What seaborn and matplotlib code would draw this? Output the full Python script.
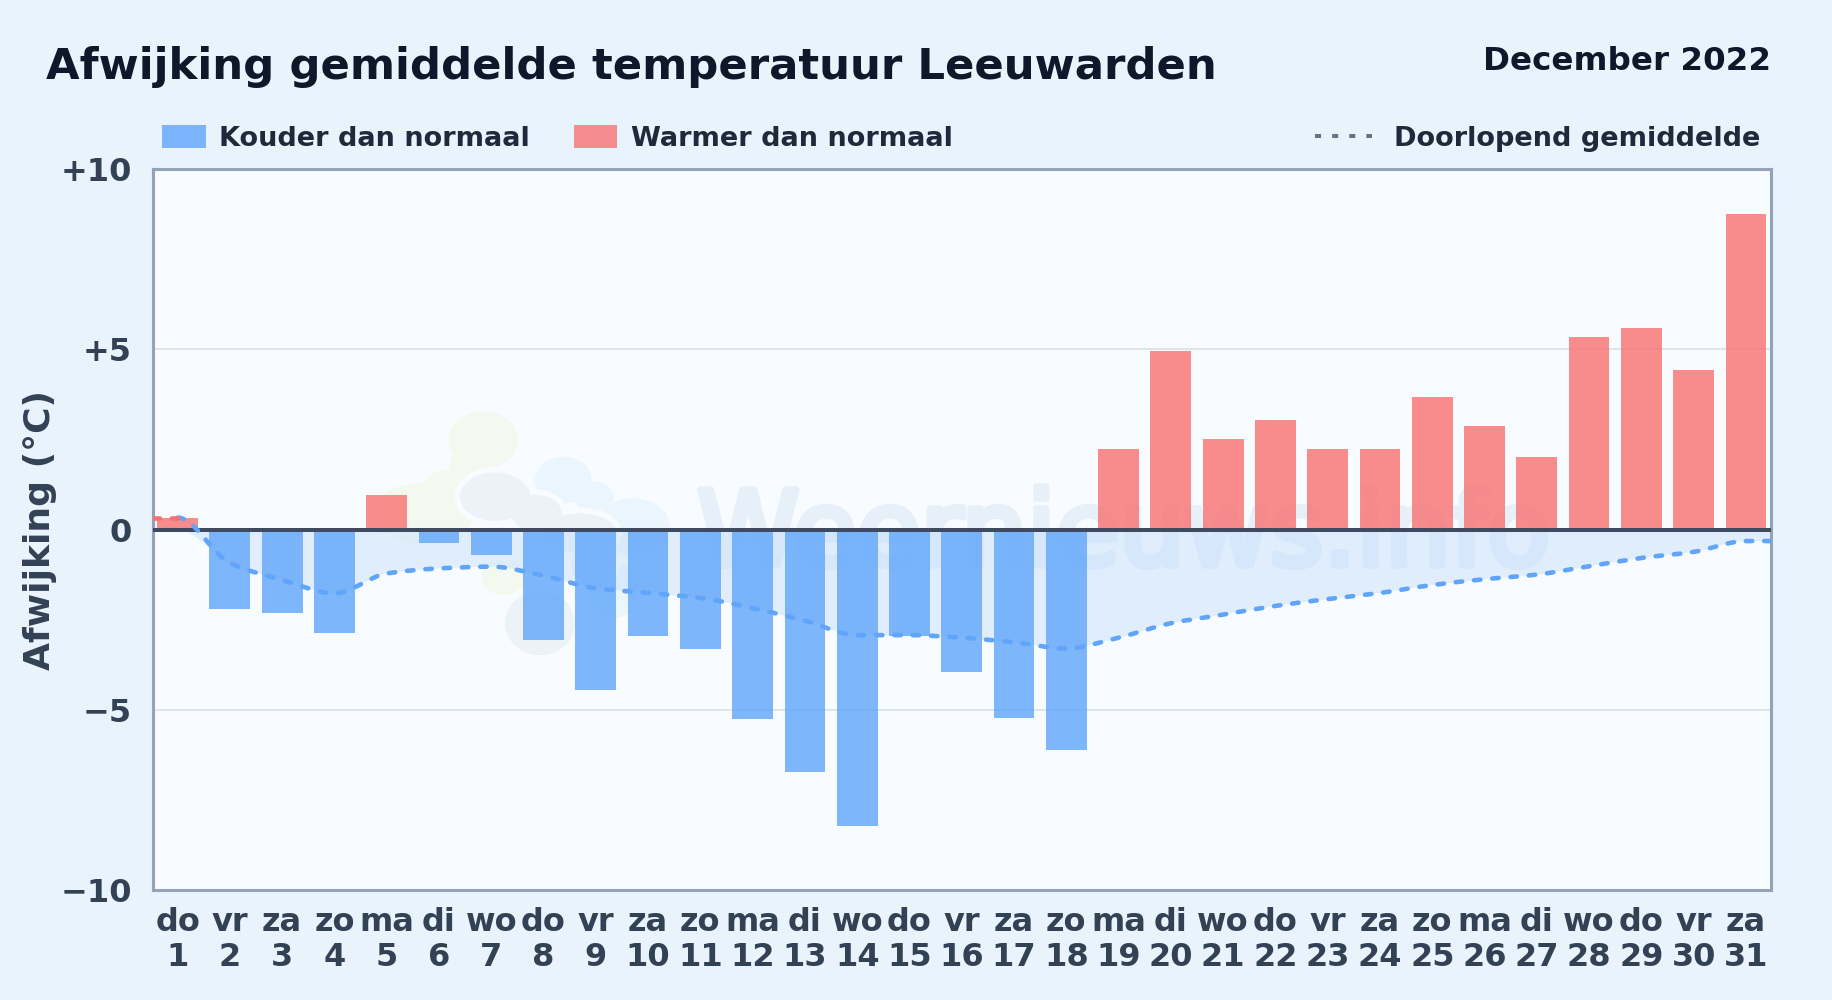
import numpy as np
import pandas as pd
import matplotlib
matplotlib.use('Agg')
import matplotlib.pyplot as plt
from matplotlib.patches import Ellipse, Patch, PathPatch
from matplotlib.path import Path
from matplotlib.lines import Line2D
from matplotlib.transforms import IdentityTransform
from matplotlib import patheffects
import seaborn as sns

weekdays = ['do', 'vr', 'za', 'zo', 'ma', 'di', 'wo', 'do', 'vr', 'za', 'zo', 'ma', 'di', 'wo', 'do', 'vr',
            'za', 'zo', 'ma', 'di', 'wo', 'do', 'vr', 'za', 'zo', 'ma', 'di', 'wo', 'do', 'vr', 'za']
days = list(range(1, 32))
deviation = [0.33, -2.2, -2.33, -2.87, 0.96, -0.37, -0.71, -3.07, -4.46, -2.96, -3.31, -5.25, -6.72, -8.22, -2.96, -3.95,
             -5.22, -6.13, 2.22, 4.95, 2.52, 3.05, 2.22, 2.22, 3.68, 2.87, 2.0, 5.35, 5.6, 4.42, 8.75]
running_mean = [0.33, -0.93, -1.4, -1.77, -1.22, -1.08, -1.03, -1.28, -1.63, -1.76, -1.9, -2.18, -2.53, -2.93, -2.93, -3.0,
                -3.13, -3.3, -3.0, -2.6, -2.36, -2.12, -1.93, -1.76, -1.54, -1.38, -1.25, -1.02, -0.79, -0.62, -0.32]
y_ticks = [-10, -5, 0, 5, 10]
y_tick_labels = ['\u221210', '\u22125', '0', '+5', '+10']

BLUE = '#60a5fa'
RED = '#f87171'
TEXT = '#334155'
DASH = (0, (1.4, 2.6))
XLIM = (-0.48, 30.47)

W, H = 1832, 1000


def smooth_path(xs, ys):
    """Bezier path through the points, monotone tangents like the original line."""
    xs, ys = np.asarray(xs, float), np.asarray(ys, float)
    slopes = np.diff(ys) / np.diff(xs)
    m = np.zeros(len(xs))
    for i in range(1, len(xs) - 1):
        if slopes[i - 1] * slopes[i] > 0:
            m[i] = 2 * slopes[i - 1] * slopes[i] / (slopes[i - 1] + slopes[i])
    verts = [(xs[0], ys[0])]
    codes = [Path.MOVETO]
    for i in range(len(xs) - 1):
        h = (xs[i + 1] - xs[i]) / 3
        verts += [(xs[i] + h, ys[i] + m[i] * h), (xs[i + 1] - h, ys[i + 1] - m[i + 1] * h), (xs[i + 1], ys[i + 1])]
        codes += [Path.CURVE4] * 3
    return verts, codes


def blob(zx, zy, zw, zh, color, **kw):
    # logo blobs, measured on a crop of the watermark
    return Ellipse((380 + zx / 3, H - (390 + zy / 3)), zw / 3, zh / 3, facecolor=color, transform=IdentityTransform(), **kw)


sns.set_theme(style='white')
plt.rcParams['font.family'] = ['DejaVu Sans']

fig = plt.figure(figsize=(W / 100, H / 100), dpi=100, facecolor='#e8f3fc')
ax = fig.add_axes([152.5 / W, 1 - 890 / H, (1770.5 - 152.5) / W, (890 - 169) / H], facecolor='#f8fbff')

df = pd.DataFrame({'pos': range(31), 'deviation': deviation})
df['kind'] = np.where(df['deviation'] < 0, 'koud', 'warm')

# watermark goes under everything else
for b in [(310, 150, 210, 170), (270, 230, 120, 140), (120, 370, 280, 180), (200, 340, 180, 200), (370, 560, 130, 110)]:
    ax.add_patch(blob(*b, '#f4f9ef', lw=0, zorder=0.1))
blue_blobs = [(550, 270, 170, 140), (640, 320, 120, 90), (760, 410, 220, 170), (700, 600, 150, 170)]
grey_blobs = [(345, 320, 210, 145), (470, 370, 150, 110), (600, 430, 220, 120), (640, 520, 130, 140), (480, 700, 210, 190)]
for b in blue_blobs:
    ax.add_patch(blob(*b, '#eaf5fd', lw=0, zorder=0.2))
for b in grey_blobs:
    ax.add_patch(blob(*b, '#f8fbff', lw=8, edgecolor='#f8fbff', zorder=0.3))
for b in grey_blobs:
    ax.add_patch(blob(*b, '#ebf2f8', lw=0, zorder=0.4))
ax.text(18.1, -0.2, 'Weernieuws.info', fontsize=74.5, color='#e7f0f9', ha='center', va='center', zorder=0.5,
        path_effects=[patheffects.withStroke(linewidth=5, foreground='#e7f0f9')])

sns.barplot(data=df, x='pos', y='deviation', hue='kind', dodge=False, palette={'koud': BLUE, 'warm': RED},
            width=0.78, alpha=0.8, legend=False, ax=ax, zorder=2, saturation=1, linewidth=0, edgecolor='none')
ax.set_xlim(*XLIM)
ax.set_ylim(-10, 10)

# area between the running mean and zero, the line itself runs flat to the frame on both sides
line_x = list(range(31)) + [XLIM[1]]
line_y = running_mean + [running_mean[-1]]
verts, codes = smooth_path(line_x, line_y)
area = [(v[0], min(v[1], 0)) for v in verts] + [(XLIM[1], 0), (0, 0), (0, 0)]
ax.add_patch(PathPatch(Path(area, codes + [Path.LINETO, Path.LINETO, Path.CLOSEPOLY]), facecolor='#c8e0fd', alpha=0.5, lw=0, zorder=1))
ax.add_patch(PathPatch(Path(verts, codes), fill=False, edgecolor=BLUE, lw=3.3, linestyle=DASH, capstyle='round', zorder=4))
ax.add_patch(PathPatch(Path([(XLIM[0], running_mean[0]), (0, running_mean[0])]), fill=False, edgecolor=RED, lw=3.3,
                       linestyle=DASH, capstyle='round', zorder=4))

ax.axhline(0, color='#3f4a5e', lw=2.9, zorder=3)

ax.set_yticks(y_ticks)
ax.set_yticklabels(y_tick_labels)
ax.set_xticks(range(31))
ax.set_xticklabels([f'{d}\n{n}' for d, n in zip(weekdays, days)], linespacing=1.15)
ax.tick_params(axis='both', length=0, labelsize=23, labelcolor=TEXT)
ax.tick_params(axis='y', pad=15)
ax.tick_params(axis='x', pad=12.5)
for lab in ax.get_xticklabels() + ax.get_yticklabels():
    lab.set_fontweight('bold')
ax.set_xlabel('')
ax.set_ylabel('')
ax.grid(axis='y', color='#dce5ea', lw=1.4)
ax.set_axisbelow(True)
for s in ax.spines.values():
    s.set_color('#94a3b8')
    s.set_linewidth(2.2)
    s.set_visible(True)

fig.text(40 / W, 1 - 530.5 / H, 'Afwijking (\u00b0C)', rotation=90, fontsize=26, fontweight='bold', color=TEXT,
         ha='center', va='center')
fig.text(46 / W, 1 - 67 / H, 'Afwijking gemiddelde temperatuur Leeuwarden', fontsize=31.2, fontweight='bold', color='#0f172a',
         ha='left', va='center')
fig.text(1771 / W, 1 - 61 / H, 'December 2022', fontsize=23.4, fontweight='bold', color='#0f172a', ha='right', va='center')

left_handles = [Patch(facecolor=BLUE, alpha=0.8, lw=0, label='Kouder dan normaal'),
                Patch(facecolor=RED, alpha=0.8, lw=0, label='Warmer dan normaal')]
fig.legend(handles=left_handles, loc='center left', bbox_to_anchor=(162 / W, 1 - 138.5 / H), ncol=2, frameon=False,
           borderaxespad=0, borderpad=0, handlelength=1.62, handleheight=0.95, handletextpad=0.5, columnspacing=1.6,
           prop={'size': 19.5, 'weight': 'bold'}, labelcolor='#1e293b')
right_handle = [Line2D([], [], color='#64748b', lw=2.9, linestyle=(0, (1.5, 2.75)), dash_capstyle='butt', label='Doorlopend gemiddelde')]
fig.legend(handles=right_handle, loc='center right', bbox_to_anchor=(1760 / W, 1 - 138.5 / H), frameon=False,
           borderaxespad=0, borderpad=0, handlelength=2.1, handletextpad=0.8,
           prop={'size': 19.5, 'weight': 'bold'}, labelcolor='#1e293b')

fig.savefig('out.png', dpi=100, facecolor=fig.get_facecolor())
